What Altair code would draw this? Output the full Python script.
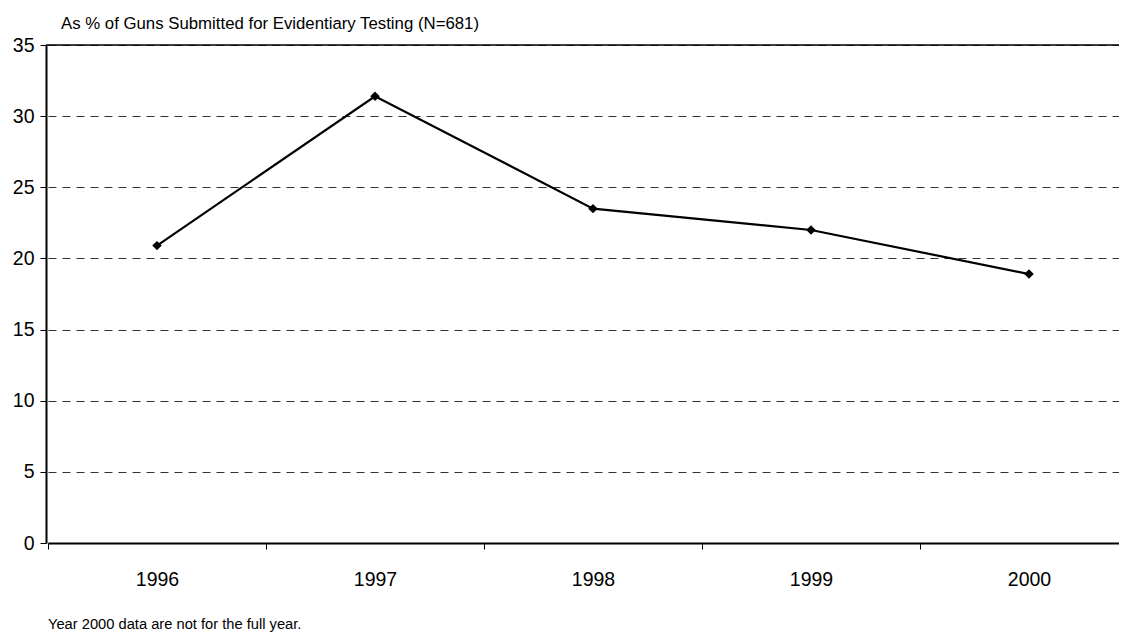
import altair as alt
import pandas as pd

years = ["1996", "1997", "1998", "1999", "2000"]
percent = [20.9, 31.4, 23.5, 22.0, 18.9]
y_ticks = [0, 5, 10, 15, 20, 25, 30, 35]
y_top = [35]
title_text = "As % of Guns Submitted for Evidentiary Testing (N=681)"
footnote = ["Year 2000 data are not for the full year."]

df = pd.DataFrame({"year": years, "pct": percent})
top_df = pd.DataFrame({"top": y_top})
note_df = pd.DataFrame({"note": footnote})

FONT = "Liberation Sans"

x_enc = alt.X(
    "year:O",
    bandPosition=0.5,
    scale=alt.Scale(type="band", range=[2, 1092], paddingInner=0, paddingOuter=0),
    axis=alt.Axis(
        title=None, labelAngle=0, tickBand="extent", tickSize=6, tickColor="black",
        domainColor="black", domainWidth=2, labelFontSize=19.5, labelFont=FONT,
        labelColor="black", labelPadding=30, grid=False, labelBaseline="middle",
    ),
)
y_scale = alt.Scale(domain=[0, 35], nice=False, zero=True)
y_enc = alt.Y(
    "pct:Q",
    scale=y_scale,
    axis=alt.Axis(
        title=None, values=y_ticks, tickSize=6, tickColor="black", domainColor="black",
        domainWidth=2, labelFontSize=19.5, labelFont=FONT, labelColor="black",
        labelPadding=6, grid=True, gridDash=[8, 6], gridColor="#333333", gridWidth=1,
    ),
)

base = alt.Chart(df)
line = base.mark_line(color="black", strokeWidth=2.2).encode(x=x_enc, y=y_enc)
pts = base.mark_point(shape="diamond", filled=True, color="black", size=90, opacity=1).encode(
    x=x_enc, y=y_enc
)
top_rule = alt.Chart(top_df).mark_rule(color="black", strokeWidth=1.5).encode(
    y=alt.Y("top:Q", scale=y_scale)
)
note = alt.Chart(note_df).mark_text(
    align="left", baseline="alphabetic", fontSize=14.7, font=FONT, color="black"
).encode(text="note:N", x=alt.value(2), y=alt.value(584))

chart = (
    alt.layer(line, pts, top_rule, note)
    .properties(
        width=1073,
        height=498,
        autosize=alt.AutoSizeParams(type="none"),
        padding={"left": 38, "top": 37, "right": 0, "bottom": 89},
        title=alt.TitleParams(
            text=title_text, anchor="start", frame="group", dx=15, dy=19, offset=8,
            baseline="alphabetic", fontSize=16.8, font=FONT, fontWeight="normal", color="black",
        ),
    )
    .configure_view(strokeWidth=0)
    .configure(background="white")
)

chart.save("out.html", embed_options={"renderer": "svg", "actions": False})
